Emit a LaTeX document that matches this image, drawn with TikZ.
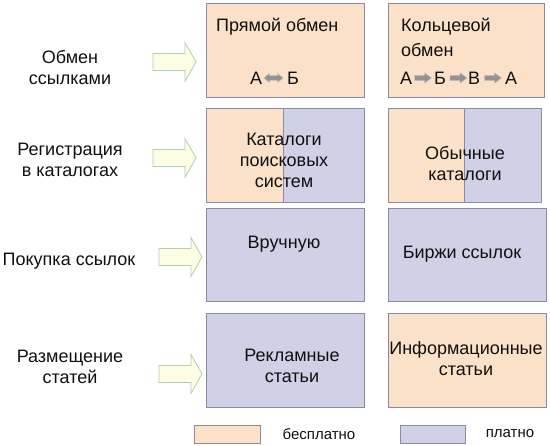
\documentclass[tikz,border=0pt]{standalone}
\usepackage{fontspec}
\setmainfont{Liberation Sans}
\begin{document}
\definecolor{peach}{HTML}{FBE1C8}
\definecolor{lilac}{HTML}{D0D0E7}
\definecolor{edge}{HTML}{8A8AA8}
\definecolor{arrfill}{HTML}{FCFDE2}
\definecolor{arredge}{HTML}{B5CDB0}
\definecolor{grayarr}{HTML}{939393}
\definecolor{ink}{HTML}{101010}
\begin{tikzpicture}[x=1pt,y=-1pt,
  box/.style={draw=edge, line width=0.9pt, inner sep=0pt, anchor=north west},
  freebox/.style={box, fill=peach},
  paidbox/.style={box, fill=lilac},
  txt/.style={text=ink, font=\fontsize{18}{21}\selectfont, inner sep=0pt, align=center},
  lbl/.style={txt},
  legtxt/.style={text=ink, font=\fontsize{15}{18}\selectfont, inner sep=0pt},
  bigarrow/.style={fill=arrfill, draw=arredge, line width=0.8pt},
  smallarrow/.style={fill=grayarr, draw=gray!50, line width=0.4pt},
  pics/bigarr/.style={code={
    \draw[bigarrow] (0,-8.5) -- (32,-8.5) -- (32,-19.5) -- (43,0) -- (32,19.5) -- (32,8.5) -- (0,8.5) -- cycle;}},
  pics/rarr/.style={code={
    \draw[smallarrow] (0,-2.6) -- (10,-2.6) -- (10,-5.2) -- (17,0) -- (10,5.2) -- (10,2.6) -- (0,2.6) -- cycle;}},
  pics/lrarr/.style={code={
    \draw[smallarrow] (0,0) -- (5.5,-4.6) -- (5.5,-2.3) -- (13.5,-2.3) -- (13.5,-4.6) -- (19,0) -- (13.5,4.6) -- (13.5,2.3) -- (5.5,2.3) -- (5.5,4.6) -- cycle;}}
]
\useasboundingbox (0,0) rectangle (550,446);

% row 1
\node[freebox, minimum width=158, minimum height=94] (b11) at (206,3) {};
\node[freebox, minimum width=156, minimum height=94] (b12) at (388,3) {};
% row 2
\node[paidbox, minimum width=158, minimum height=94] (b21) at (206,108) {};
\fill[peach] ([shift={(0.45,-0.45)}]b21.north west) rectangle ([shift={(77,0.45)}]b21.south west);
\draw[edge, line width=0.9pt] ([xshift=77]b21.north west) -- ([xshift=77]b21.south west);
\draw[edge, line width=0.9pt] (b21.north west) rectangle (b21.south east);
\node[paidbox, minimum width=153, minimum height=94] (b22) at (388,108) {};
\fill[peach] ([shift={(0.45,-0.45)}]b22.north west) rectangle ([shift={(76,0.45)}]b22.south west);
\draw[edge, line width=0.9pt] ([xshift=76]b22.north west) -- ([xshift=76]b22.south west);
\draw[edge, line width=0.9pt] (b22.north west) rectangle (b22.south east);
% row 3
\node[paidbox, minimum width=158, minimum height=93] (b31) at (206,208) {};
\node[paidbox, minimum width=158, minimum height=93] (b32) at (388,208) {};
% row 4
\node[paidbox, minimum width=158, minimum height=94] (b41) at (206,313) {};
\node[freebox, minimum width=158, minimum height=94] (b42) at (388,313) {};

% texts in boxes
\node[txt, anchor=base west] (t11) at (216,32) {Прямой обмен};
\node[txt, anchor=base west] (t11a) at (250,85) {А};
\pic at (264,78) {lrarr};
\node[txt, anchor=base west] (t11b) at (287,85) {Б};

\node[txt, anchor=base west] (t12) at (401,32) {Кольцевой};
\node[txt, anchor=base west] (t12b) at (401,57) {обмен};
\node[txt, anchor=base west] (c1) at (400,85) {А};
\pic at (414.5,78) {rarr};
\node[txt, anchor=base west] (c2) at (434,85) {Б};
\pic at (450,78) {rarr};
\node[txt, anchor=base west] (c3) at (468,85) {В};
\pic at (484.5,78) {rarr};
\node[txt, anchor=base west] (c4) at (505,85) {А};

\node[txt] (t21) at (284,160) {Каталоги\\поисковых\\систем};
\node[txt] (t22) at (465,163) {Обычные\\каталоги};
\node[txt] (t31) at (284,244) {Вручную};
\node[txt] (t32) at (462,254) {Биржи ссылок};
\node[txt] (t41) at (292,366) {Рекламные\\статьи};
\node[txt] (t42) at (466,359) {Информационные\\статьи};

% left labels
\node[lbl] (l1) at (70,67) {Обмен\\ссылками};
\node[lbl] (l2) at (70,160) {Регистрация\\в каталогах};
\node[lbl] (l3) at (69,261) {Покупка ссылок};
\node[lbl] (l4) at (70,367) {Размещение\\статей};

% big arrows
\pic at (153,62) {bigarr};
\pic at (153,158) {bigarr};
\pic at (159,257) {bigarr};
\pic at (159,374) {bigarr};

% legend
\node[box, fill=peach, draw=edge!80!brown, minimum width=66, minimum height=18] (lg1) at (194,425) {};
\node[legtxt] (lg1t) at (319,434) {бесплатно};
\node[box, fill=lilac, minimum width=65, minimum height=18] (lg2) at (400,425) {};
\node[legtxt] (lg2t) at (510,434) {платно};
\end{tikzpicture}
\end{document}
